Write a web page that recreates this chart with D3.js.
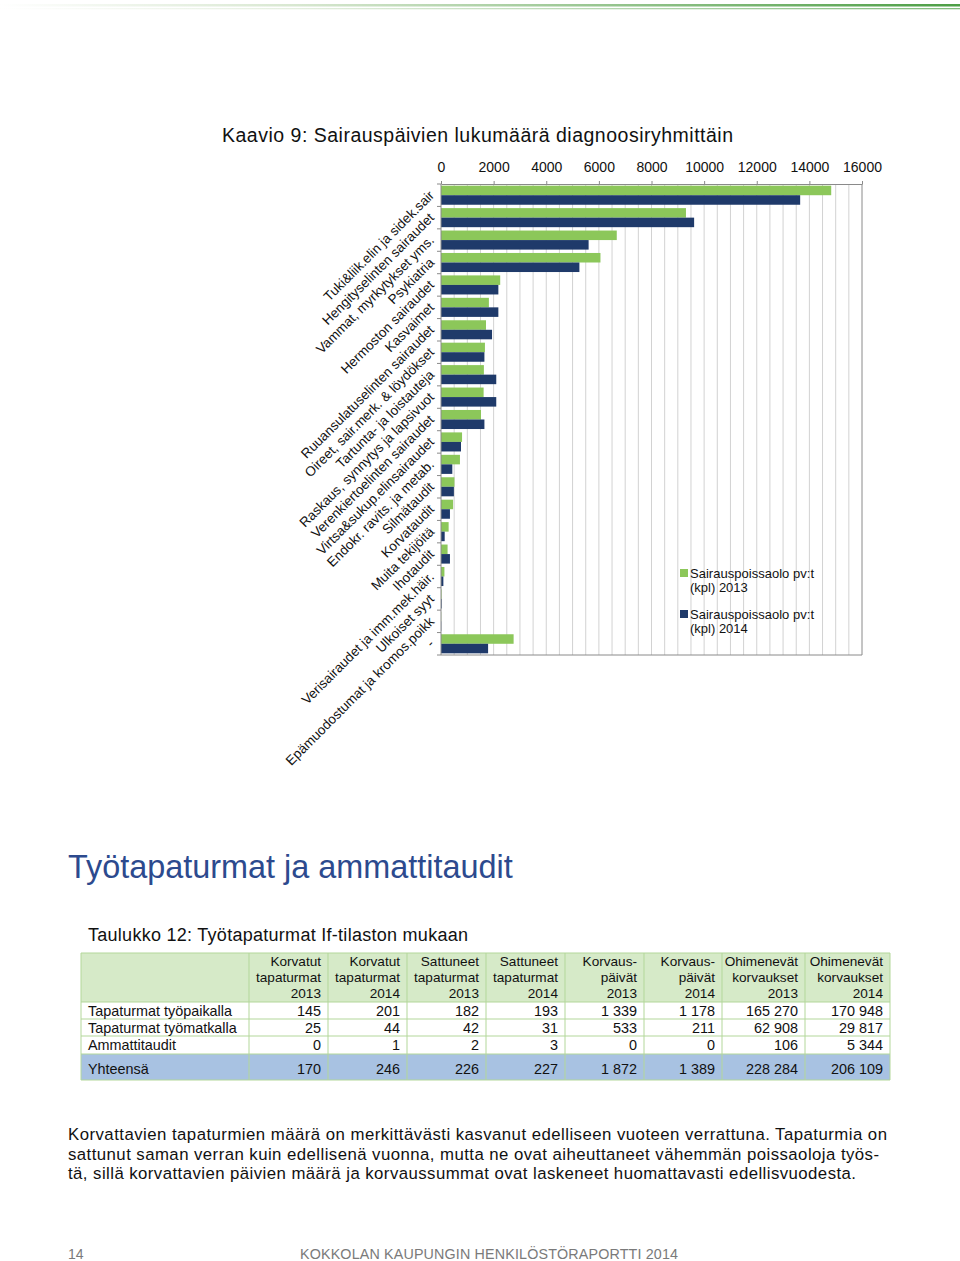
<!DOCTYPE html>
<html>
<head>
<meta charset="utf-8">
<script src="https://cdn.jsdelivr.net/npm/d3@7"></script>
<style>
  html, body { margin: 0; padding: 0; background: #fff; }
  svg { display: block; font-family: "Liberation Sans", Arial, sans-serif; }
</style>
</head>
<body>
<div id="page"></div>
<script>
// chart data
const categories = [
  "Tuki&liik.elin ja sidek.sair", "Hengityselinten sairaudet", "Vammat, myrkytykset yms.",
  "Psykiatria", "Hermoston sairaudet", "Kasvaimet", "Ruuansulatuselinten sairaudet",
  "Oireet, sair.merk. & löydökset", "Tartunta- ja loistauteja", "Raskaus, synnytys ja lapsivuot",
  "Verenkiertoelinten sairaudet", "Virtsa&sukup.elinsairaudet", "Endokr. ravits. ja metab.",
  "Silmätaudit", "Korvataudit", "Muita tekijöitä", "Ihotaudit",
  "Verisairaudet ja imm.mek.häir.", "Ulkoiset syyt", "Epämuodostumat ja kromos.poikk", "-"
];
const days2013 = [14830, 9310, 6680, 6060, 2250, 1820, 1710, 1670, 1630, 1620, 1520, 800, 720, 510, 460, 290, 250, 130, 20, 8, 2760];
const days2014 = [13650, 9620, 5610, 5260, 2180, 2180, 1940, 1650, 2100, 2100, 1650, 760, 430, 490, 340, 140, 340, 90, 25, 10, 1790];
const seriesNames = ["Sairauspoissaolo pv:t (kpl) 2013", "Sairauspoissaolo pv:t (kpl) 2014"];
const xTickValues = [0, 2000, 4000, 6000, 8000, 10000, 12000, 14000, 16000];
const gridValues = [500, 1000, 1500, 2000, 2500, 3000, 3500, 4000, 4500, 5000, 5500, 6000, 6500, 7000, 7500, 8000,
  8500, 9000, 9500, 10000, 10500, 11000, 11500, 12000, 12500, 13000, 13500, 14000, 14500, 15000, 15500, 16000];

// table data
const tableHeaders = [
  ["Korvatut", "tapaturmat", "2013"], ["Korvatut", "tapaturmat", "2014"],
  ["Sattuneet", "tapaturmat", "2013"], ["Sattuneet", "tapaturmat", "2014"],
  ["Korvaus-", "päivät", "2013"], ["Korvaus-", "päivät", "2014"],
  ["Ohimenevät", "korvaukset", "2013"], ["Ohimenevät", "korvaukset", "2014"]
];
const tableRowNames = ["Tapaturmat työpaikalla", "Tapaturmat työmatkalla", "Ammattitaudit", "Yhteensä"];
const rowTyopaikalla = ["145", "201", "182", "193", "1 339", "1 178", "165 270", "170 948"];
const rowTyomatkalla = ["25", "44", "42", "31", "533", "211", "62 908", "29 817"];
const rowAmmattitaudit = ["0", "1", "2", "3", "0", "0", "106", "5 344"];
const rowYhteensa = ["170", "246", "226", "227", "1 872", "1 389", "228 284", "206 109"];

const paragraphLines = [
  "Korvattavien tapaturmien määrä on merkittävästi kasvanut edelliseen vuoteen verrattuna. Tapaturmia on",
  "sattunut saman verran kuin edellisenä vuonna, mutta ne ovat aiheuttaneet vähemmän poissaoloja työs-",
  "tä, sillä korvattavien päivien määrä ja korvaussummat ovat laskeneet huomattavasti edellisvuodesta."
];
const paragraphWidths = [819, 811, 788];

const green = "#8cc75a";
const navy = "#1f3a6a";

const svg = d3.select("#page").append("svg")
  .attr("width", 960)
  .attr("height", 1261);

// top decorative lines
const defs = svg.append("defs");
const grad = defs.append("linearGradient").attr("id", "topline");
grad.append("stop").attr("offset", "0%").attr("stop-color", "#ffffff");
grad.append("stop").attr("offset", "30%").attr("stop-color", "#d9e8d2");
grad.append("stop").attr("offset", "100%").attr("stop-color", "#4c9e45");
svg.append("rect").attr("x", 0).attr("y", 4).attr("width", 960).attr("height", 2.5).attr("fill", "url(#topline)");
svg.append("rect").attr("x", 0).attr("y", 8).attr("width", 960).attr("height", 1.3).attr("fill", "url(#topline)").attr("opacity", 0.7);

// ---- chart ----
svg.append("text")
  .attr("x", 222).attr("y", 142)
  .attr("font-size", 19.5).attr("fill", "#111")
  .attr("textLength", 511).attr("lengthAdjust", "spacing")
  .text("Kaavio 9: Sairauspäivien lukumäärä diagnoosiryhmittäin");

const plot = { left: 441, right: 862, top: 184, bottom: 655 };

const x = d3.scaleLinear().domain([0, 16000]).range([plot.left, plot.right]);
const y = d3.scaleBand().domain(categories).range([plot.top, plot.bottom]).paddingInner(0.15).paddingOuter(0.075);
const ySeries = d3.scaleBand().domain(["2013", "2014"]).range([0, y.bandwidth()]);

// gridlines
svg.append("g")
  .selectAll("line")
  .data(gridValues)
  .enter()
  .append("line")
  .attr("x1", d => x(d)).attr("x2", d => x(d))
  .attr("y1", plot.top).attr("y2", plot.bottom)
  .attr("stroke", d => d === 16000 ? "#8a8a8a" : "#d2d2d2")
  .attr("stroke-width", 1);

// bottom border
svg.append("line")
  .attr("x1", plot.left).attr("x2", plot.right)
  .attr("y1", plot.bottom).attr("y2", plot.bottom)
  .attr("stroke", "#8a8a8a");

// bars
const rows = categories.map((c, i) => ({ cat: c, v2013: days2013[i], v2014: days2014[i] }));
const groups = svg.append("g")
  .selectAll("g")
  .data(rows)
  .enter()
  .append("g")
  .attr("transform", d => `translate(0, ${y(d.cat)})`);

groups.append("rect")
  .attr("x", x(0))
  .attr("y", ySeries("2013"))
  .attr("width", d => x(d.v2013) - x(0))
  .attr("height", ySeries.bandwidth())
  .attr("fill", green);

groups.append("rect")
  .attr("x", x(0))
  .attr("y", ySeries("2014"))
  .attr("width", d => x(d.v2014) - x(0))
  .attr("height", ySeries.bandwidth())
  .attr("fill", navy);

// top axis
const xAxis = svg.append("g")
  .attr("transform", `translate(0, ${plot.top})`)
  .call(d3.axisTop(x).tickValues(xTickValues).tickFormat(d3.format("d")).tickSize(3).tickPadding(9).tickSizeOuter(0));
xAxis.select(".domain").attr("stroke", "#8a8a8a");
xAxis.selectAll(".tick line").attr("stroke", "#8a8a8a");
xAxis.selectAll("text")
  .attr("font-family", "Liberation Sans, Arial, sans-serif")
  .attr("font-size", 14)
  .attr("fill", "#111");

// left axis line and category ticks
svg.append("line")
  .attr("x1", plot.left).attr("x2", plot.left)
  .attr("y1", plot.top).attr("y2", plot.bottom)
  .attr("stroke", "#8a8a8a");

const step = y.step();
const tickYs = categories.map(c => y(c) - step * 0.075);
tickYs.push(plot.bottom);
svg.append("g")
  .selectAll("line")
  .data(tickYs)
  .enter()
  .append("line")
  .attr("x1", plot.left - 4).attr("x2", plot.left)
  .attr("y1", d => d).attr("y2", d => d)
  .attr("stroke", "#8a8a8a");

// rotated category labels
svg.append("g")
  .selectAll("text")
  .data(categories)
  .enter()
  .append("text")
  .attr("transform", d => `translate(435, ${y(d) + y.bandwidth() / 2 + 1}) rotate(-45)`)
  .attr("text-anchor", "end")
  .attr("font-size", 13.5)
  .attr("fill", "#111")
  .text(d => d);

// legend
const legend = svg.append("g");
[green, navy].forEach((col, i) => {
  const ly = 569 + i * 41;
  legend.append("rect")
    .attr("x", 680).attr("y", ly).attr("width", 8).attr("height", 8)
    .attr("fill", col);
  const words = seriesNames[i].split(" ");
  legend.append("text")
    .attr("x", 690).attr("y", ly + 8.5)
    .attr("font-size", 13).attr("fill", "#111")
    .attr("textLength", 124).attr("lengthAdjust", "spacing")
    .text(words.slice(0, 2).join(" "));
  legend.append("text")
    .attr("x", 690).attr("y", ly + 23)
    .attr("font-size", 13).attr("fill", "#111")
    .text(words.slice(2).join(" "));
});

// ---- section heading ----
svg.append("text")
  .attr("x", 68).attr("y", 878)
  .attr("font-size", 32.4).attr("fill", "#2c4a8e")
  .text("Työtapaturmat ja ammattitaudit");

svg.append("text")
  .attr("x", 88).attr("y", 941)
  .attr("font-size", 18).attr("fill", "#111")
  .attr("textLength", 380).attr("lengthAdjust", "spacing")
  .text("Taulukko 12: Työtapaturmat If-tilaston mukaan");

// ---- table ----
const colEdges = [81, 249, 328, 407, 486, 565, 644, 722, 805, 890];
const headerTop = 953, headerBottom = 1002;
const rowEdges = [1002, 1019, 1036, 1054, 1080];
const tableValues = [rowTyopaikalla, rowTyomatkalla, rowAmmattitaudit, rowYhteensa];
const table = svg.append("g").attr("font-size", 14.4).attr("fill", "#111");

table.append("rect")
  .attr("x", colEdges[0]).attr("y", headerTop)
  .attr("width", colEdges[9] - colEdges[0]).attr("height", headerBottom - headerTop)
  .attr("fill", "#d6eac8");
table.append("rect")
  .attr("x", colEdges[0]).attr("y", rowEdges[3])
  .attr("width", colEdges[9] - colEdges[0]).attr("height", rowEdges[4] - rowEdges[3])
  .attr("fill", "#a8c2e2");

// borders
const lineColor = "#b3d79a";
colEdges.forEach(cx => {
  table.append("line")
    .attr("x1", cx).attr("x2", cx)
    .attr("y1", headerTop).attr("y2", rowEdges[4])
    .attr("stroke", lineColor);
});
[headerTop].concat(rowEdges).forEach(ry => {
  table.append("line")
    .attr("x1", colEdges[0]).attr("x2", colEdges[9])
    .attr("y1", ry).attr("y2", ry)
    .attr("stroke", lineColor);
});

// header text
tableHeaders.forEach((lines, j) => {
  lines.forEach((ln, k) => {
    table.append("text")
      .attr("x", colEdges[j + 2] - 7)
      .attr("y", 966 + k * 16)
      .attr("text-anchor", "end")
      .attr("font-size", 13.6)
      .text(ln);
  });
});

// body rows
tableRowNames.forEach((name, i) => {
  const base = i === 3 ? 1074 : rowEdges[i] + 13.5;
  table.append("text").attr("x", 88).attr("y", base).text(name);
  tableValues[i].forEach((v, j) => {
    table.append("text")
      .attr("x", colEdges[j + 2] - 7)
      .attr("y", base)
      .attr("text-anchor", "end")
      .text(v);
  });
});

// paragraph
paragraphLines.forEach((ln, i) => {
  svg.append("text")
    .attr("x", 68).attr("y", 1140 + i * 19.5)
    .attr("font-size", 16.8).attr("fill", "#111")
    .attr("textLength", paragraphWidths[i]).attr("lengthAdjust", "spacing")
    .text(ln);
});

// footer
svg.append("text")
  .attr("x", 68).attr("y", 1259)
  .attr("font-size", 14).attr("fill", "#7a7a7a")
  .text("14");
svg.append("text")
  .attr("x", 300).attr("y", 1259)
  .attr("font-size", 14.3).attr("fill", "#7a7a7a")
  .attr("textLength", 378).attr("lengthAdjust", "spacing")
  .text("KOKKOLAN KAUPUNGIN HENKILÖSTÖRAPORTTI 2014");
</script>
</body>
</html>
